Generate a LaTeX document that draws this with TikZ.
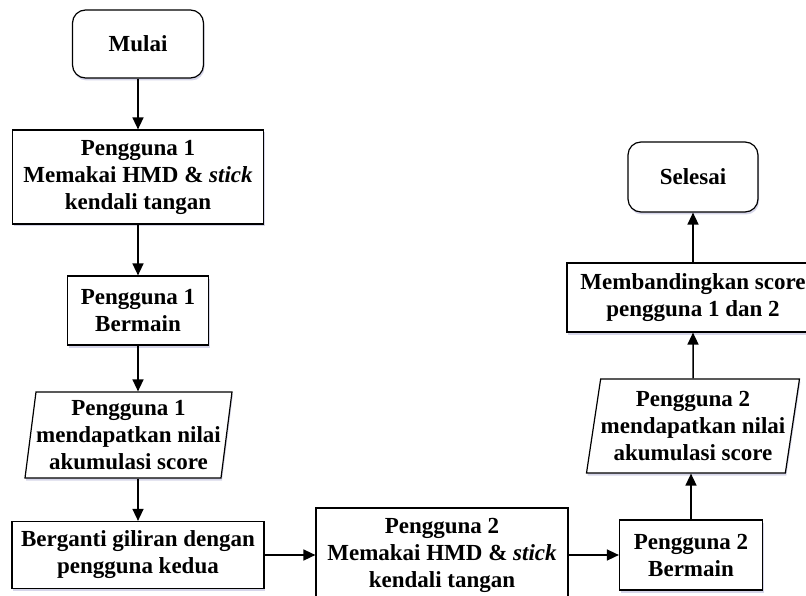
\documentclass[tikz,border=0pt]{standalone}
\usepackage{fontspec}
\setmainfont{Liberation Serif}
\usetikzlibrary{arrows.meta,shapes.geometric,shadows}

\tikzset{
  bayang/.style={drop shadow={shadow xshift=1pt, shadow yshift=-2.5pt, opacity=.25, fill=blue!30!gray}},
  kotak/.style={draw, line width=1.2pt, fill=white, align=center, inner sep=0pt,
    font=\bfseries\fontsize{23}{27}\selectfont, bayang},
  ujung/.style={kotak, rounded corners=13pt},
  data/.style={kotak, trapezium, trapezium stretches body},
  panah/.style={-{Triangle[length=12pt,width=11pt]}, line width=1.5pt},
}

\begin{document}
\begin{tikzpicture}[x=1pt,y=-1pt]
%
         \clip (0,0) rectangle (806,596);

         \node [ujung, minimum width=131, minimum height=68] (A) at (138,44) {Mulai};
         \node [kotak, minimum width=251, minimum height=94] (B) at (138,177) {Pengguna 1\\Memakai HMD \& \textit{stick}\\kendali tangan};
         \node [kotak, minimum width=141, minimum height=69] (C) at (138,310.5) {Pengguna 1\\Bermain};
         \node [data, trapezium left angle=81, trapezium right angle=99,
                minimum width=207, minimum height=86] (D) at (128.5,435) {Pengguna 1\\mendapatkan nilai\\akumulasi score};
         \node [kotak, minimum width=252, minimum height=67] (E) at (138,555) {Berganti giliran dengan\\pengguna kedua};
         \node [kotak, minimum width=252, minimum height=94] (F) at (442,555) {Pengguna 2\\Memakai HMD \& \textit{stick}\\kendali tangan};
         \node [kotak, minimum width=143, minimum height=70] (G) at (691,555) {Pengguna 2\\Bermain};
         \node [data, trapezium left angle=78.5, trapezium right angle=101.5,
                minimum width=208, minimum height=94] (H) at (693,426) {Pengguna 2\\mendapatkan nilai\\akumulasi score};
         \node [kotak, minimum width=252, minimum height=69] (I) at (693,297.5) {Membandingkan score\\pengguna 1 dan 2};
         \node [ujung, minimum width=130, minimum height=70] (J) at (693,177) {Selesai};

         \draw [panah] (A) -- (B);
         \draw [panah] (B) -- (C);
         \draw [panah] (C) -- (C |- D.north);
         \draw [panah] (D.south -| C) -- (E);
         \draw [panah] (E) -- (F);
         \draw [panah] (F) -- (G);
         \draw [panah] (G.north) -- (G.north |- H.south);
         \draw [panah] (H) -- (I);
         \draw [panah] (I) -- (J);

\end{tikzpicture}
\end{document}
